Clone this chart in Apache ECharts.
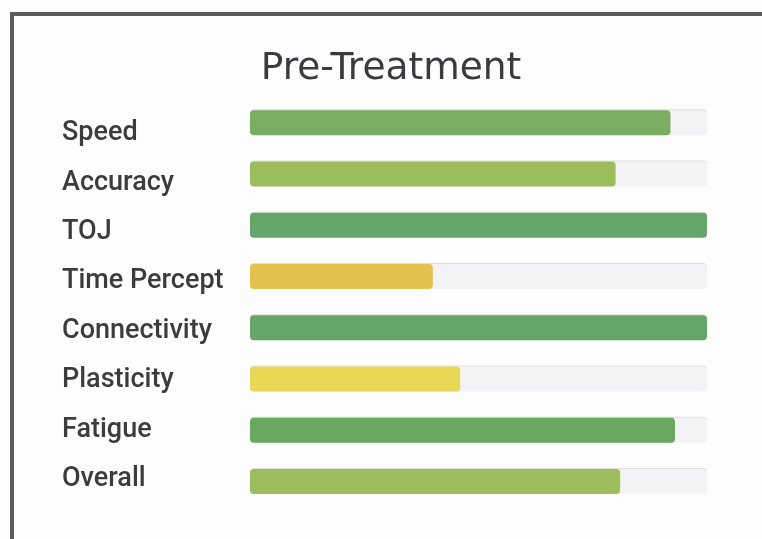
<!DOCTYPE html>
<html>
<head>
<meta charset="utf-8">
<script src="https://cdn.jsdelivr.net/npm/echarts@6/dist/echarts.min.js"></script>
<style>
html,body{margin:0;padding:0;background:#fdfdfd;}
#main{width:762px;height:539px;}
</style>
</head>
<body>
<div id="main"></div>
<script>
const categories = ['Speed','Accuracy','TOJ','Time Percept','Connectivity','Plasticity','Fatigue','Overall'];
const values = [92, 80, 100, 40, 100, 46, 93, 81];
const barColors = ['#7aad62','#9bbd5c','#66a56a','#e2c14c','#66a56a','#e8d855','#6aa862','#9bbd5c'];
const titleText = 'Pre-Treatment';

const chart = echarts.init(document.getElementById('main'));
chart.setOption({
  backgroundColor: '#fdfdfd',
  animation: false,
  title: {
    text: titleText,
    left: 386, top: 45, textAlign: 'center',
    textStyle: {fontFamily: 'DejaVu Sans', fontSize: 37.5, fontWeight: 'normal', color: '#3a3b3f'}
  },
  graphic: [{
    type: 'rect',
    shape: {x: 12, y: 14, width: 800, height: 600},
    style: {fill: 'none', stroke: '#5c5c5c', lineWidth: 4},
    silent: true
  }],
  grid: [
    {left: 250, right: 55, top: 97, bottom: 32},
    {left: 62, right: 520, top: 108.8, bottom: 35}
  ],
  xAxis: [
    {type: 'value', min: 0, max: 100, show: false, gridIndex: 0},
    {type: 'value', min: 0, max: 100, show: false, gridIndex: 1}
  ],
  yAxis: [
    {
      type: 'category', data: categories, inverse: true, gridIndex: 0,
      axisLine: {show: false}, axisTick: {show: false}, axisLabel: {show: false}
    },
    {
      type: 'category', data: categories, inverse: true, gridIndex: 1,
      axisLine: {show: false}, axisTick: {show: false},
      axisLabel: {
        align: 'left', margin: 0,
        fontFamily: 'Roboto', fontWeight: 500, fontSize: 27, color: '#3c3c3c'
      }
    }
  ],
  series: [{
    type: 'bar',
    xAxisIndex: 0, yAxisIndex: 0,
    data: values.map((v, i) => ({value: v, itemStyle: {color: barColors[i]}})),
    barWidth: 25,
    itemStyle: {borderRadius: 4},
    showBackground: true,
    backgroundStyle: {color: '#f3f2f5', borderRadius: 4, shadowColor: 'rgba(0,0,0,0.12)', shadowOffsetY: -1, shadowBlur: 0}
  }]
});
</script>
</body>
</html>
